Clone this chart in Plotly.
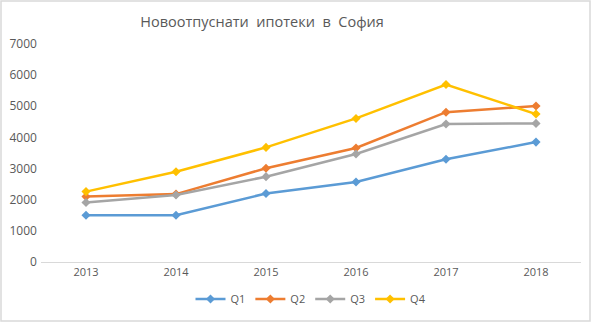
import plotly.graph_objects as go

years = ["2013", "2014", "2015", "2016", "2017", "2018"]
q1 = [1500, 1500, 2200, 2570, 3300, 3850]
q2 = [2100, 2180, 3010, 3660, 4810, 5010]
q3 = [1910, 2150, 2740, 3470, 4430, 4450]
q4 = [2260, 2900, 3680, 4610, 5700, 4750]

series = [("Q1", q1, "#5B9BD5"), ("Q2", q2, "#ED7D31"),
          ("Q3", q3, "#A5A5A5"), ("Q4", q4, "#FFC000")]

W, H = 591, 322
ML, MR, MT, MB = 41, 10, 44, 60
PW, PH = W - ML - MR, H - MT - MB

fig = go.Figure()
for name, vals, color in series:
    fig.add_trace(go.Scatter(
        x=years, y=vals, name=name, mode="lines+markers",
        line=dict(color=color, width=2.5),
        marker=dict(symbol="diamond", size=7, color=color),
    ))

fig.update_layout(
    width=W, height=H,
    margin=dict(l=ML, r=MR, t=MT, b=MB, autoexpand=False),
    paper_bgcolor="white", plot_bgcolor="white",
    font=dict(family="Open Sans", size=11, color="#595959"),
    title=dict(text="Новоотпуснати  ипотеки  в  София",
               x=262 / W, xanchor="center", y=1 - 22 / H, yanchor="middle",
               font=dict(size=14.5, color="#595959")),
    showlegend=True,
    legend=dict(orientation="h", x=0.5, xanchor="center",
                yref="container", y=1 - 299 / H, yanchor="middle",
                font=dict(size=11, color="#595959"),
                tracegroupgap=0),
    xaxis=dict(type="category", range=[-0.5, 5.5], showgrid=False,
               showline=True, linecolor="#D9D9D9", linewidth=1,
               ticks="", tickfont=dict(size=11, color="#595959")),
    yaxis=dict(range=[0, 7000], dtick=1000, showgrid=False, zeroline=False,
               showline=False, ticks="", ticksuffix=" ",
               tickfont=dict(size=12, color="#595959")),
)

# light frame around the whole chart area
fig.add_shape(type="rect", xref="paper", yref="paper",
              x0=-(ML - 1) / PW, x1=1 + (MR - 1) / PW,
              y0=-(MB - 1) / PH, y1=1 + (MT - 1) / PH,
              line=dict(color="#D9D9D9", width=1.5), fillcolor="rgba(0,0,0,0)",
              layer="below")

fig.write_html("out.html")
